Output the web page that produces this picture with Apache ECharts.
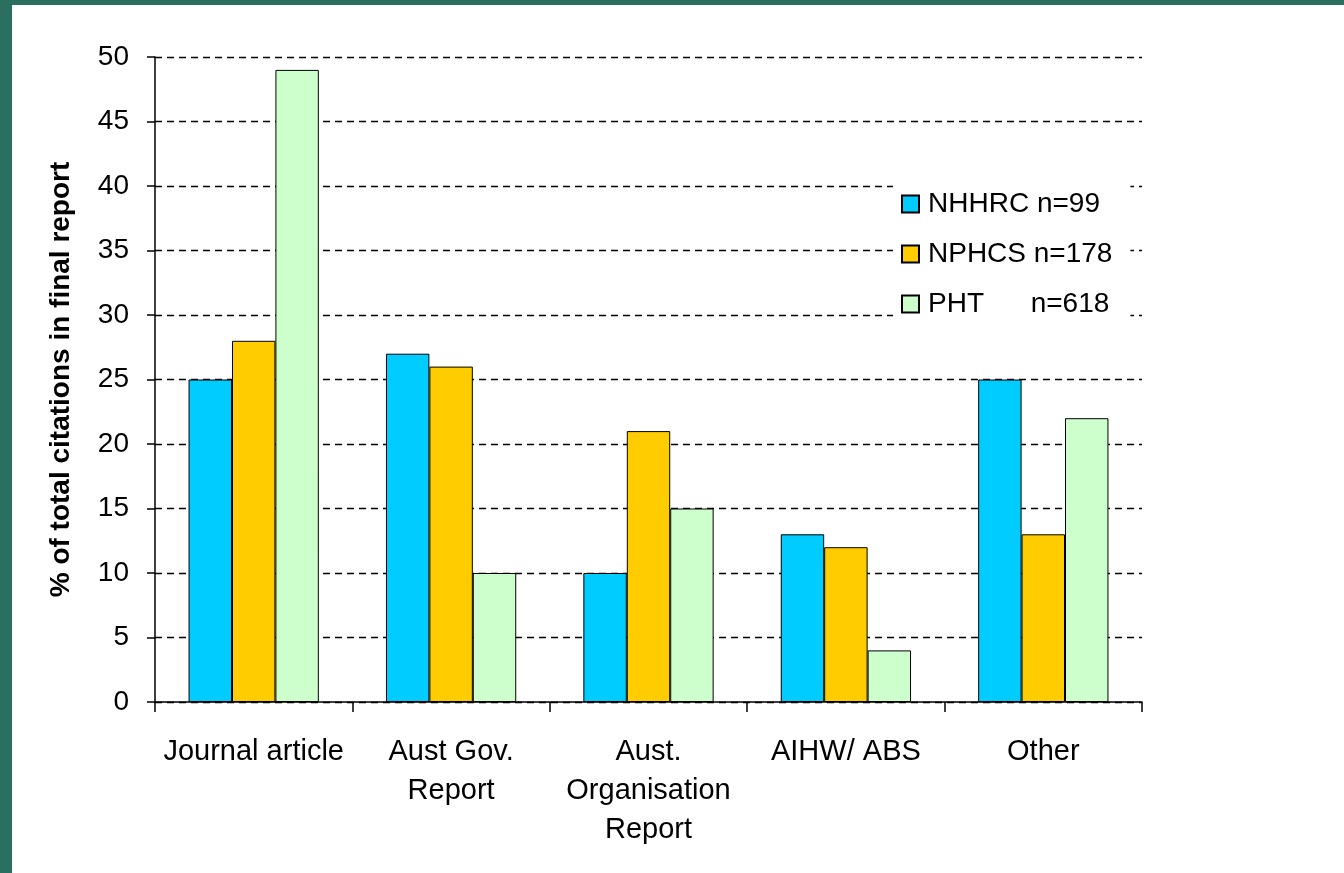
<!DOCTYPE html>
<html><head><meta charset="utf-8">
<script src="https://cdn.jsdelivr.net/npm/echarts@6/dist/echarts.min.js"></script>
<style>
html,body{margin:0;padding:0;background:#fff;}
#frame{position:absolute;left:0;top:0;width:1344px;height:873px;background:#fff;}
#bl{position:absolute;left:0;top:0;width:12px;height:873px;background:#2A6F5F;}
#bt{position:absolute;left:0;top:0;width:1344px;height:5px;background:#2A6F5F;}
#chart{position:absolute;left:0;top:0;width:1344px;height:873px;}
</style></head>
<body>
<div id="frame"><div id="chart"></div><div id="bl"></div><div id="bt"></div></div>
<script>
const categories = ['Journal article', 'Aust Gov.\nReport', 'Aust.\nOrganisation\nReport', 'AIHW/ ABS', 'Other'];
const nhhrc = [25, 27, 10, 13, 25];
const nphcs = [28, 26, 21, 12, 13];
const pht = [49, 10, 15, 4, 22];
const seriesNames = ['NHHRC n=99', 'NPHCS n=178', 'PHT      n=618'];
const colors = ['#00CCFF', '#FFCC00', '#CCFFCC'];

const chart = echarts.init(document.getElementById('chart'));
const font = 'Liberation Sans, Arial, sans-serif';
const mk = (name, data, c) => ({
  name, type: 'bar', data, barGap: '0%', barCategoryGap: '34%',
  itemStyle: {color: c, borderColor: '#000', borderWidth: 1}
});
chart.setOption({
  animation: false,
  textStyle: {fontFamily: font},
  grid: {left: 155, right: 202, top: 57, bottom: 171},
  legend: {
    orient: 'vertical', left: 893, top: 180,
    backgroundColor: '#fff', padding: [10, 18, 10, 8],
    itemWidth: 17, itemHeight: 17, itemGap: 22,
    icon: 'rect',
    textStyle: {fontSize: 28, color: '#000', fontFamily: font, padding: [0, 0, 0, 4]},
    data: seriesNames
  },
  xAxis: {
    type: 'category', data: categories, boundaryGap: true,
    axisLine: {lineStyle: {color: '#000', width: 1.5}},
    axisTick: {show: true, length: 10, lineStyle: {color: '#000', width: 1.5}},
    axisLabel: {fontSize: 29, color: '#000', margin: 30, lineHeight: 39, interval: 0, fontFamily: font}
  },
  yAxis: {
    type: 'value', min: 0, max: 50, interval: 5,
    name: '% of total citations in final report', nameLocation: 'middle', nameGap: 80,
    nameTextStyle: {fontSize: 28, fontWeight: 'bold', color: '#000', fontFamily: font},
    axisLine: {show: true, lineStyle: {color: '#000', width: 1.5}},
    axisTick: {show: true, length: 8, lineStyle: {color: '#000', width: 1.5}},
    axisLabel: {fontSize: 28, color: '#000', margin: 26, fontFamily: font},
    splitLine: {show: true, lineStyle: {color: '#000', type: [7, 5], width: 1.3}}
  },
  series: [mk(seriesNames[0], nhhrc, colors[0]), mk(seriesNames[1], nphcs, colors[1]), mk(seriesNames[2], pht, colors[2])]
});
</script>
</body></html>
